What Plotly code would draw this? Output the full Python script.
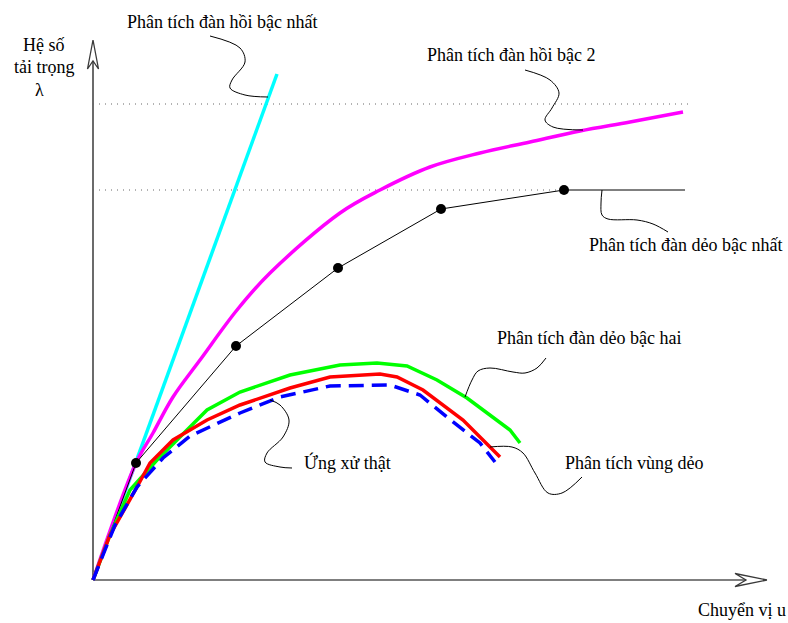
import plotly.graph_objects as go

# Displacement u / load factor λ, schematic units (origin at 0,0)
u_elastic1 = [0, 184]
lam_elastic1 = [0, 506]

u_elastic2 = [0, 43, 60, 80, 107, 144, 177, 247, 287, 337, 387, 437, 487, 537, 590]
lam_elastic2 = [0, 117, 147, 183, 220, 270, 307, 367, 390, 413, 427, 438, 449, 458, 468]

u_plastic1 = [0, 43, 143, 245, 348, 471, 592]
lam_plastic1 = [0, 117, 234, 312, 371, 390, 390]
u_hinges = [43, 143, 245, 348, 471]
lam_hinges = [117, 234, 312, 371, 390]

u_plastic2 = [0, 17, 37, 64, 87, 114, 147, 197, 247, 284, 314, 344, 374, 417, 427]
lam_plastic2 = [0, 45, 90, 120, 143, 170, 188, 205, 215, 217, 214, 200, 182, 150, 137]

u_zone = [0, 17, 44, 57, 80, 114, 147, 197, 237, 287, 304, 330, 370, 390, 407]
lam_zone = [0, 45, 93, 117, 140, 160, 175, 192, 203, 206, 203, 190, 160, 140, 123]

u_real = [0, 22, 44, 70, 97, 147, 187, 237, 297, 327, 354, 387, 402]
lam_real = [0, 55, 93, 122, 144, 167, 183, 194, 195, 185, 163, 137, 118]

lam_limit_elastic = 476
lam_limit_plastic = 390
u_limit_elastic_end = 595
u_limit_plastic_end = 471

# Leader lines from each label to its curve
leaders = {
    "e1": ([117, 147, 152, 139, 137, 152, 175], [544, 532, 518, 500, 492, 485, 483]),
    "e2": ([432, 457, 466, 459, 452, 460, 490], [510, 500, 487, 472, 460, 453, 450]),
    "p1": ([509, 508, 509, 515, 544, 560, 575], [390, 377, 365, 361, 360, 356, 348]),
    "p2": ([372, 379, 385, 397, 420, 432, 444, 453], [183, 200, 209, 212, 208, 207, 212, 222]),
    "pz": ([397, 419, 430, 442, 455, 469, 489], [133, 133, 127, 107, 87, 87, 103]),
    "re": ([177, 187, 196, 190, 174, 172, 187, 199], [180, 175, 160, 143, 127, 118, 113, 112]),
}

labels = [
    ("Phân tích đàn hồi bậc nhất", 32, 558, "left"),
    ("Phân tích đàn hồi bậc 2", 332, 525, "left"),
    ("Phân tích đàn dẻo bậc nhất", 494, 335, "left"),
    ("Phân tích đàn dẻo bậc hai", 402, 242, "left"),
    ("Phân tích vùng dẻo", 470, 117, "left"),
    ("Ứng xử thật", 209, 118, "left"),
    ("Chuyển vị u", 695, -30, "right"),
    ("Hệ số", -49, 535, "center"),
    ("tải trọng", -49, 513, "center"),
    ("λ", -54, 490, "center"),
]

FONT = "'Liberation Serif', 'DejaVu Serif', serif"
fig = go.Figure()

def line(x, y, color, width, dash="solid", shape="linear"):
    fig.add_trace(go.Scatter(x=x, y=y, mode="lines",
                             line=dict(color=color, width=width, dash=dash, shape=shape),
                             hoverinfo="skip", showlegend=False))

# Axes with open arrowheads
axis_col = "#3a3a3a"
line([0, 0], [0, 519], axis_col, 1.5)
line([0, 653], [0, 0], "#555555", 1.5)
line([0, -5.5, 0, 5.5, 0], [540, 511, 519, 511, 540], axis_col, 1.3)
line([674, 642, 653, 642, 674], [0, 6.5, 0, -6.5, 0], axis_col, 1.3)

# Limit-load reference lines
line([0, u_limit_elastic_end], [lam_limit_elastic] * 2, "#666666", 1, dash="1px,5px")
line([0, u_limit_plastic_end], [lam_limit_plastic] * 2, "#666666", 1, dash="1px,5px")

# Load-displacement curves
line(u_elastic1, lam_elastic1, "#00FFFF", 3.5)
line(u_elastic2, lam_elastic2, "#FF00FF", 3.5, shape="spline")
line(u_plastic1, lam_plastic1, "#000000", 1)
fig.add_trace(go.Scatter(x=u_hinges, y=lam_hinges, mode="markers",
                         marker=dict(color="black", size=10),
                         hoverinfo="skip", showlegend=False))
line(u_plastic2, lam_plastic2, "#00FF00", 3.5)
line(u_zone, lam_zone, "#FF0000", 3.5)
line(u_real, lam_real, "#0000FF", 3.5, dash="15px,8px")

for lx, ly in leaders.values():
    line(lx, ly, "#000000", 1, shape="spline")

for text, x, y, anchor in labels:
    fig.add_annotation(x=x, y=y, text=text, showarrow=False, xanchor=anchor,
                       yanchor="middle", font=dict(family=FONT, size=18, color="black"))

fig.update_xaxes(range=[-93, 695], visible=False, fixedrange=True)
fig.update_yaxes(range=[-43, 580], visible=False, fixedrange=True)
fig.update_layout(width=788, height=623, margin=dict(l=0, r=0, t=0, b=0),
                  plot_bgcolor="white", paper_bgcolor="white",
                  font=dict(family=FONT))

fig.write_html("out.html")
